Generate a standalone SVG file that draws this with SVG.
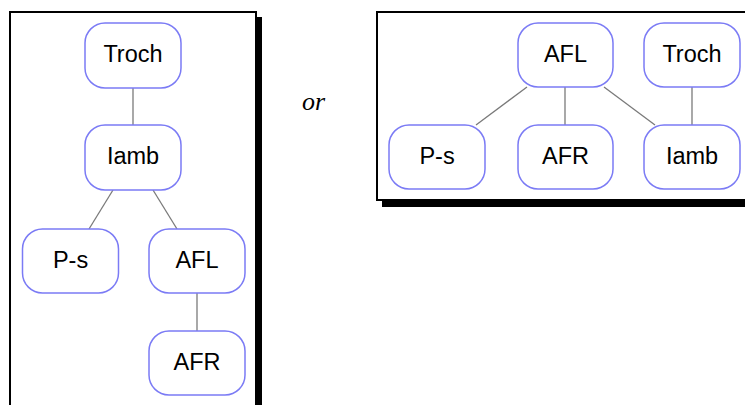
<svg xmlns="http://www.w3.org/2000/svg" width="745" height="405" viewBox="0 0 745 405">
<style>
.panel{fill:#fff;stroke:#000;stroke-width:2}
.shadow{fill:#000}
.node rect{fill:#fff;stroke:#7b7bf5;stroke-width:1.5}
.node text{font-family:"Liberation Sans",Arial,sans-serif;font-size:23.5px;fill:#000;text-anchor:middle}
.edges line{stroke:#7a7a7a;stroke-width:1.3}
.or{font-family:"Liberation Serif","Times New Roman",serif;font-style:italic;font-size:26px;fill:#000}
</style>
<rect width="745" height="405" fill="#fff"/>
<!-- left panel -->
<rect class="shadow" x="15" y="17" width="247" height="400"/>
<rect class="panel" x="10" y="12" width="246" height="400"/>
<!-- right panel -->
<rect class="shadow" x="382" y="17" width="380" height="190"/>
<rect class="panel" x="377" y="12" width="380" height="188"/>
<text class="or" x="302" y="110">or</text>
<g class="edges">
<line x1="133" y1="88" x2="133" y2="125"/>
<line x1="113" y1="190" x2="89" y2="229"/>
<line x1="153" y1="190" x2="177" y2="229"/>
<line x1="197" y1="293" x2="197" y2="331"/>
<line x1="527" y1="87" x2="476" y2="125"/>
<line x1="565" y1="87" x2="565" y2="125"/>
<line x1="604" y1="87" x2="655" y2="125"/>
<line x1="692" y1="87" x2="692" y2="125"/>
</g>
<g id="l-troch" class="node"><rect x="85" y="23" width="96" height="65" rx="20"/><text x="133" y="62">Troch</text></g>
<g id="l-iamb" class="node"><rect x="85" y="125" width="96" height="65" rx="20"/><text x="133" y="164">Iamb</text></g>
<g id="l-ps" class="node"><rect x="22.5" y="229" width="96" height="64" rx="20"/><text x="70.5" y="268">P-s</text></g>
<g id="l-afl" class="node"><rect x="149" y="229" width="96" height="64" rx="20"/><text x="197" y="268">AFL</text></g>
<g id="l-afr" class="node"><rect x="149" y="331" width="96" height="64" rx="20"/><text x="197" y="370">AFR</text></g>
<g id="r-afl" class="node"><rect x="518" y="23" width="95" height="64" rx="20"/><text x="565.5" y="62">AFL</text></g>
<g id="r-troch" class="node"><rect x="644" y="23" width="96" height="64" rx="20"/><text x="692" y="62">Troch</text></g>
<g id="r-ps" class="node"><rect x="389" y="125" width="96" height="64" rx="20"/><text x="437" y="164">P-s</text></g>
<g id="r-afr" class="node"><rect x="518" y="125" width="95" height="64" rx="20"/><text x="565.5" y="164">AFR</text></g>
<g id="r-iamb" class="node"><rect x="644" y="125" width="96" height="64" rx="20"/><text x="692" y="164">Iamb</text></g>
</svg>
